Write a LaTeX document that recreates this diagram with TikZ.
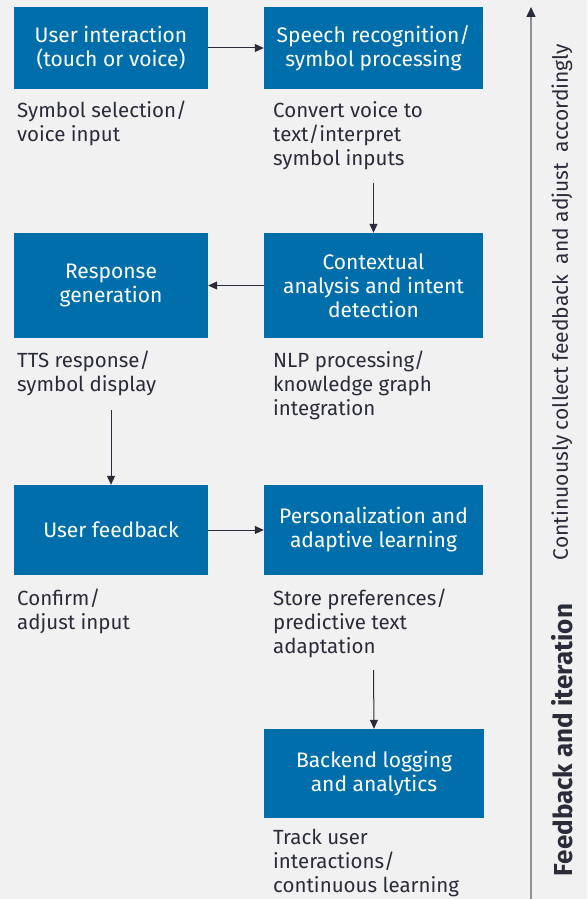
\documentclass[tikz,border=0pt]{standalone}
\usepackage{fontspec}
\setmainfont{Fira Sans}
\usetikzlibrary{arrows.meta}
\definecolor{bg}{HTML}{F1F1F1}
\definecolor{boxblue}{HTML}{006EAB}
\definecolor{ink}{HTML}{2B2C3A}
\definecolor{axis}{HTML}{8C9196}
\begin{document}
\begin{tikzpicture}[x=1pt,y=-1pt,
  stepbox/.style={fill=boxblue, text=white, align=center, inner sep=0pt,
    font=\fontsize{21}{24}\selectfont},
  narrowbox/.style={stepbox, minimum width=194pt},
  widebox/.style={stepbox, minimum width=219pt},
  note/.style={anchor=north west, align=left, inner sep=0pt, text=ink,
    font=\fontsize{20.5}{24}\selectfont},
  link/.style={draw=ink, line width=1pt, -{Triangle[length=9pt,width=8pt]}}]
\useasboundingbox[fill=bg] (0,0) rectangle (587,899);
% boxes
\node[narrowbox, minimum height=82pt] (b1) at (111,48) {User interaction\\(touch or voice)};
\node[widebox, minimum height=82pt] (b2) at (373.5,48) {Speech recognition/\\symbol processing};
\node[widebox, minimum height=105pt] (b3) at (373.5,285.5) {Contextual\\analysis and intent\\detection};
\node[narrowbox, minimum height=105pt] (b4) at (111,285.5) {Response\\generation};
\node[narrowbox, minimum height=90pt] (b5) at (111,530) {User feedback};
\node[widebox, minimum height=90pt] (b6) at (373.5,530) {Personalization and\\adaptive learning};
\node[stepbox, minimum width=220pt, minimum height=89pt] (b7) at (374,773.5) {Backend logging\\and analytics};
% notes
\node[note] (n1) at (17,101) {Symbol selection/\\voice input};
\node[note] (n2) at (273,101) {Convert voice to\\text/interpret\\symbol inputs};
\node[note] (n4) at (17,351) {TTS response/\\symbol display};
\node[note] (n3) at (273,351) {NLP processing/\\knowledge graph\\integration};
\node[note] (n5) at (17,589) {Confirm/\\adjust input};
\node[note] (n6) at (273,589) {Store preferences/\\predictive text\\adaptation};
\node[note] (n7) at (273,829) {Track user\\interactions/\\continuous learning};
% connectors
\coordinate (s23) at (373.5,183);
\coordinate (s45) at (111,410);
\coordinate (s67) at (373.5,670);
\draw[link] (b1) -- (b2);
\draw[link] (s23) -- (b3.north);
\draw[link] (b3) -- (b4);
\draw[link] (s45) -- (b5.north);
\draw[link] (b5) -- (b6);
\draw[link] (s67) -- (b7.north);
% feedback axis
\coordinate (abot) at (531,899);
\coordinate (atop) at (531,7);
\draw[draw=axis, line width=1.5pt, -{Triangle[length=10pt,width=9pt,fill=ink,color=ink]}] (abot) -- (atop);
\node[rotate=90, text=ink, inner sep=0pt, font=\fontsize{21}{22}\selectfont] (t1) at (562,302)
  {Continuously collect feedback\enspace and adjust\enspace accordingly};
\node[rotate=90, text=ink, inner sep=0pt, font=\fontsize{26}{28}\bfseries] (t2) at (562,740)
  {Feedback and iteration};
\end{tikzpicture}
\end{document}
